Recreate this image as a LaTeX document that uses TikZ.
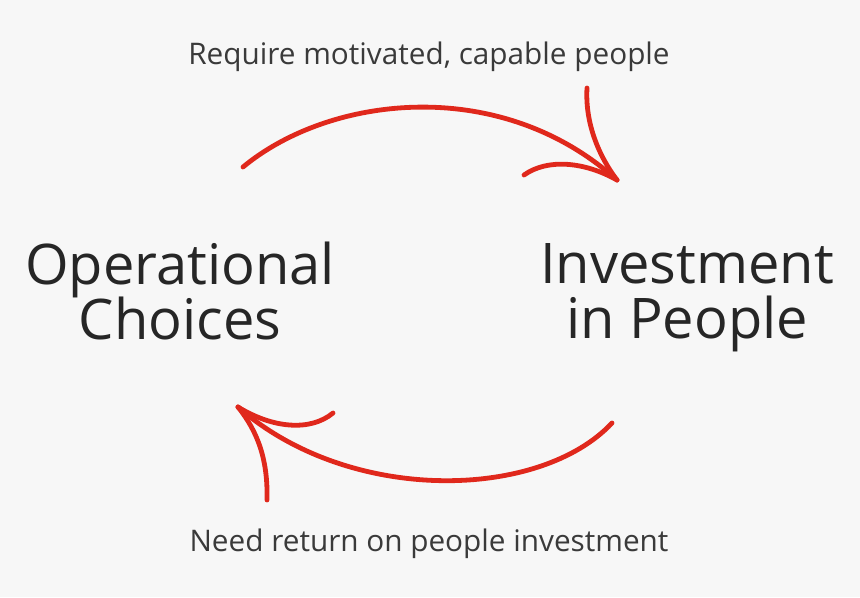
\documentclass[tikz,border=0pt]{standalone}
\usepackage{fontspec}
\setmainfont{Open Sans}
\definecolor{loopred}{HTML}{E0281C}
\definecolor{bggray}{HTML}{F7F7F7}
\definecolor{labelgray}{HTML}{3A3A3A}
\lineskiplimit=-60pt

\begin{document}
\begin{tikzpicture}[x=0.75pt, y=-0.75pt,
        bigtext/.style={align=center, font=\fontsize{42}{41}\selectfont, text=black!85},
        smalltext/.style={align=center, font=\fontsize{22.3}{28}\selectfont, text=labelgray},
        redline/.style={draw=loopred, line width=3.6pt, line cap=round}
    ]
        % Background and frame
        \fill[bggray] (0,0) rectangle (860,597);
        \useasboundingbox (0,0) rectangle (860,597);

        % Main blocks
        \node[bigtext] (choices) at (180,291) {Operational\\Choices};
        \node[bigtext] (people) at (687,298) {Investment\\in People};

        % Labels on the loop
        \node[smalltext] (require) at (429,57) {Require motivated, capable people};
        \node[smalltext] (need) at (429,544) {Need return on people investment};

        % Ends of the curves
        \coordinate (topstart) at (243,167);
        \coordinate (toptip) at (617,180);
        \coordinate (botstart) at (612,423);
        \coordinate (bottip) at (238,407);

        % Top arrow: choices to people
        \draw[redline] (topstart) .. controls (330,95) and (500,75) .. (toptip);
        \draw[redline] (587,88) .. controls (585,122) and (598,155) .. (toptip);
        \draw[redline] (524,175) .. controls (548,158) and (585,162) .. (toptip);

        % Bottom arrow: people back to choices
        \draw[redline] (botstart) .. controls (540,500) and (350,505) .. (bottip);
        \draw[redline] (333,413) .. controls (310,432) and (272,428) .. (bottip);
        \draw[redline] (267,500) .. controls (268,460) and (258,432) .. (bottip);
    \end{tikzpicture}
\end{document}
